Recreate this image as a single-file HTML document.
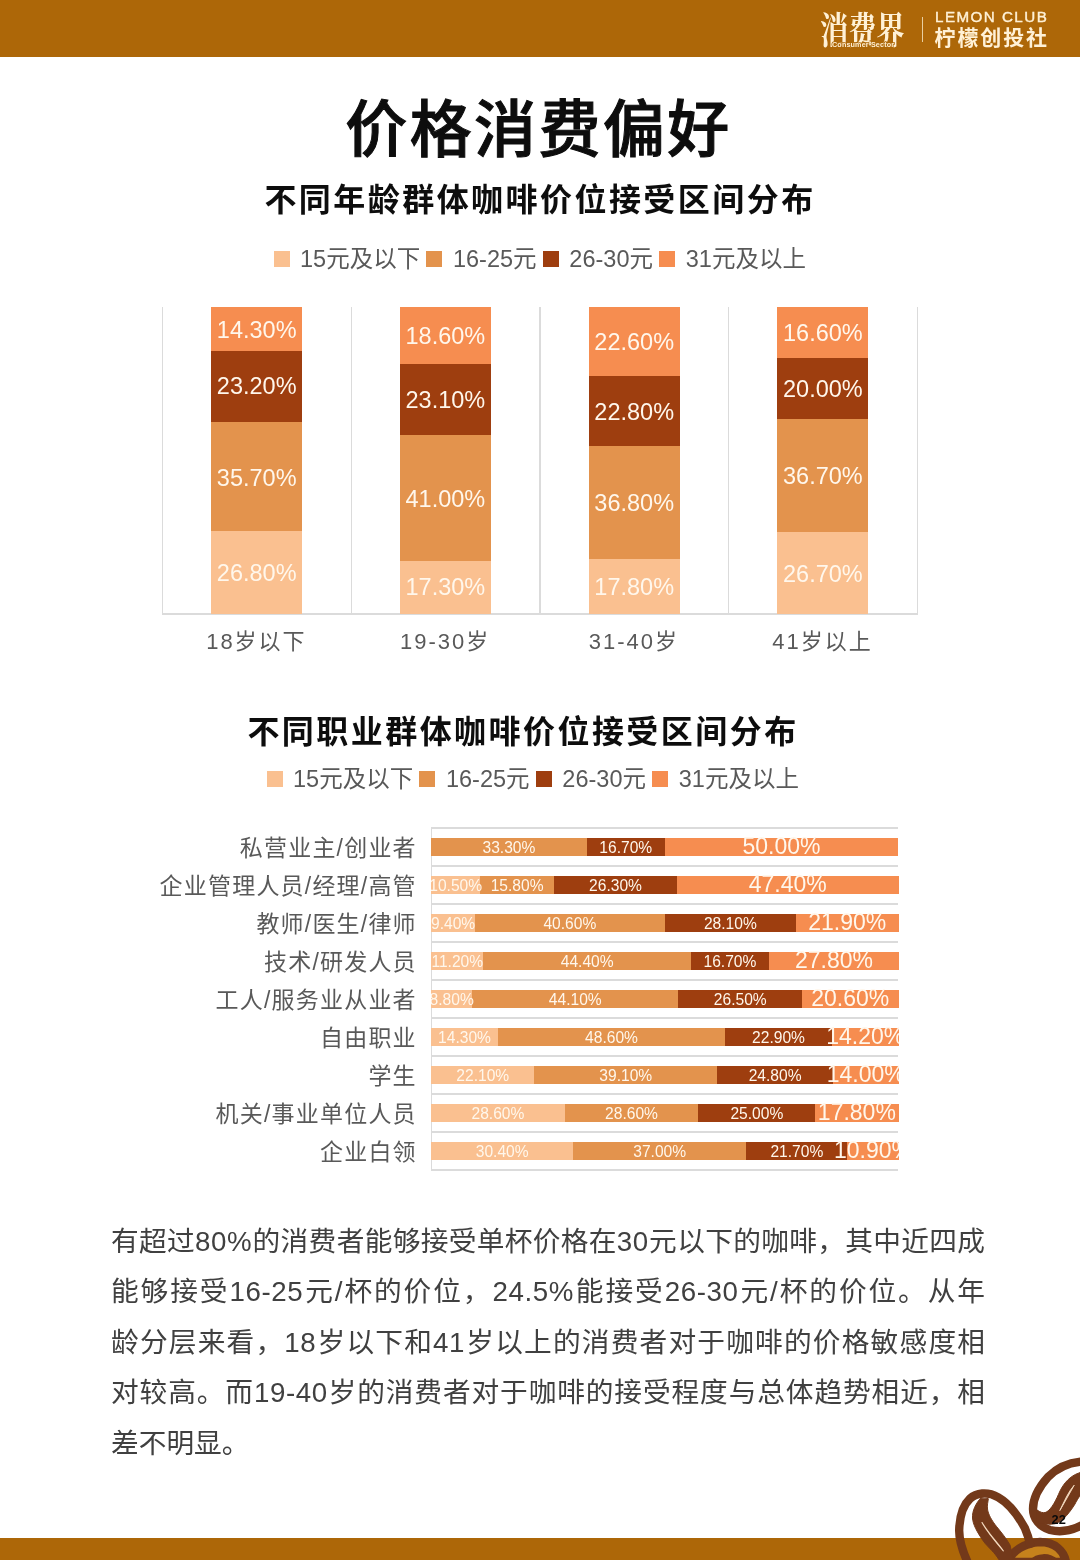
<!DOCTYPE html>
<html lang="zh-CN"><head><meta charset="utf-8"><title>价格消费偏好</title>
<style>
*{margin:0;padding:0;box-sizing:border-box}
html,body{width:1080px;height:1560px;background:#fff;overflow:hidden}
body{position:relative;font-family:"Liberation Sans","Noto Sans CJK SC",sans-serif;color:#595959}
.abs{position:absolute}
.top{left:0;top:0;width:1080px;height:57px;background:#AD6708}
.bot{left:0;top:1537.5px;width:1080px;height:23px;background:#AD6708}
.title{left:0;width:1080px;top:86px;left:-2.5px;text-align:center;font-family:"Liberation Sans","Noto Sans CJK SC",sans-serif;font-weight:500;-webkit-text-stroke:1px #0d0d0d;font-size:62px;line-height:90px;color:#0d0d0d;letter-spacing:2.4px;padding-left:2px}
.sub{left:0;width:1080px;text-align:center;font-family:"Liberation Sans","Noto Sans CJK SC",sans-serif;font-weight:700;font-size:32px;line-height:40px;color:#0d0d0d;letter-spacing:2.45px;padding-left:2px}
.leg{font-size:23.5px;line-height:30px;color:#595959;white-space:nowrap;letter-spacing:0px}
.leg i{display:inline-block;width:16px;height:16px;margin-right:10.5px;vertical-align:0.5px}
.leg span{margin-right:6.3px}
.seg{position:absolute;color:#FFF7EC;text-align:center;white-space:nowrap;overflow:visible}
.v{width:91px;font-size:23.5px}
.cat1{width:188px;text-align:center;font-size:22px;line-height:30px;letter-spacing:2px;color:#595959;top:627px}
.gl{background:#dbdbdb}
.cat2{left:100px;width:316.8px;text-align:right;font-size:23px;line-height:30px;letter-spacing:1.2px;color:#595959;white-space:nowrap}
.h{height:18px;font-size:15.6px;line-height:20.4px}
.h.big{font-size:23px;line-height:16px}
.body{left:111px;top:1216.5px;width:874px;font-family:"Liberation Sans","Noto Sans CJK SC",sans-serif;font-weight:400;font-size:27.7px;line-height:50.5px;color:#404040;letter-spacing:0px}
.body div{text-align:justify;text-align-last:justify;white-space:nowrap;margin-right:0px}
.body .n{letter-spacing:0.6px}
.body div.last{text-align:left;text-align-last:left}
</style></head><body>
<div class="abs top"></div>
<div class="abs" style="left:819.5px;top:7.5px;width:115px;height:48px;font-family:'Liberation Serif','Noto Serif CJK SC',serif;font-weight:700;font-size:37px;line-height:48px;color:#FFF1D6;white-space:nowrap;transform:scaleX(0.765);transform-origin:0 0">消费界</div>
<div class="abs" style="left:832px;top:39.5px;width:70px;font-family:'Liberation Sans',sans-serif;font-weight:700;font-size:7.2px;line-height:10px;color:#FFF1D6;white-space:nowrap;letter-spacing:0.15px;-webkit-text-stroke:1.6px #AD6708;paint-order:stroke fill">Consumer Sector</div>
<div class="abs" style="left:921.5px;top:16.5px;width:1.3px;height:25px;background:#E9CFA0"></div>
<div class="abs" style="left:935px;top:7.5px;font-family:'Liberation Sans',sans-serif;font-weight:400;-webkit-text-stroke:0.4px #FFF1D6;font-size:15.2px;line-height:18px;color:#FFF1D6;white-space:nowrap;letter-spacing:1.45px">LEMON CLUB</div>
<div class="abs" style="left:934.5px;top:23.2px;font-family:'Liberation Sans','Noto Sans CJK SC',sans-serif;font-weight:700;font-size:21px;line-height:30px;color:#FFF1D6;white-space:nowrap;letter-spacing:1.9px">柠檬创投社</div>

<div class="abs title">价格消费偏好</div>
<div class="abs sub" style="top:180px;padding-left:0px">不同年龄群体咖啡价位接受区间分布</div>
<div class="abs leg" style="left:273.5px;top:244px"><i style="background:#FAC090"></i><span>15元及以下</span><i style="background:#E3934D"></i><span>16-25元</span><i style="background:#9E3E0F"></i><span>26-30元</span><i style="background:#F68D50"></i><span>31元及以上</span></div>
<div class="abs gl" style="left:161.8px;top:306.5px;width:1.3px;height:307.0px"></div>
<div class="abs gl" style="left:350.6px;top:306.5px;width:1.3px;height:307.0px"></div>
<div class="abs gl" style="left:539.3px;top:306.5px;width:1.3px;height:307.0px"></div>
<div class="abs gl" style="left:728.0px;top:306.5px;width:1.3px;height:307.0px"></div>
<div class="abs gl" style="left:916.8px;top:306.5px;width:1.3px;height:307.0px"></div>
<div class="abs gl" style="left:161.5px;top:613.2px;width:756.3px;height:1.5px"></div>
<div class="seg v" style="left:211.2px;top:531.2px;height:82.6px;line-height:84.7px;background:#FAC090">26.80%</div>
<div class="seg v" style="left:211.2px;top:421.6px;height:109.9px;line-height:112.0px;background:#E3934D">35.70%</div>
<div class="seg v" style="left:211.2px;top:350.4px;height:71.5px;line-height:73.6px;background:#9E3E0F">23.20%</div>
<div class="seg v" style="left:211.2px;top:306.5px;height:44.2px;line-height:46.3px;background:#F68D50">14.30%</div>
<div class="abs cat1" style="left:162.4px">18岁以下</div>
<div class="seg v" style="left:399.9px;top:560.4px;height:53.4px;line-height:55.5px;background:#FAC090">17.30%</div>
<div class="seg v" style="left:399.9px;top:434.5px;height:126.2px;line-height:128.3px;background:#E3934D">41.00%</div>
<div class="seg v" style="left:399.9px;top:363.6px;height:71.2px;line-height:73.3px;background:#9E3E0F">23.10%</div>
<div class="seg v" style="left:399.9px;top:306.5px;height:57.4px;line-height:59.5px;background:#F68D50">18.60%</div>
<div class="abs cat1" style="left:351.1px">19-30岁</div>
<div class="seg v" style="left:588.7px;top:558.9px;height:54.9px;line-height:57.0px;background:#FAC090">17.80%</div>
<div class="seg v" style="left:588.7px;top:445.9px;height:113.3px;line-height:115.4px;background:#E3934D">36.80%</div>
<div class="seg v" style="left:588.7px;top:375.9px;height:70.3px;line-height:72.4px;background:#9E3E0F">22.80%</div>
<div class="seg v" style="left:588.7px;top:306.5px;height:69.7px;line-height:71.8px;background:#F68D50">22.60%</div>
<div class="abs cat1" style="left:539.9px">31-40岁</div>
<div class="seg v" style="left:777.4px;top:531.5px;height:82.3px;line-height:84.4px;background:#FAC090">26.70%</div>
<div class="seg v" style="left:777.4px;top:418.9px;height:113.0px;line-height:115.1px;background:#E3934D">36.70%</div>
<div class="seg v" style="left:777.4px;top:357.5px;height:61.7px;line-height:63.8px;background:#9E3E0F">20.00%</div>
<div class="seg v" style="left:777.4px;top:306.5px;height:51.3px;line-height:53.4px;background:#F68D50">16.60%</div>
<div class="abs cat1" style="left:728.6px">41岁以上</div>
<div class="abs sub" style="top:712px;left:-18px">不同职业群体咖啡价位接受区间分布</div>
<div class="abs leg" style="left:266.5px;top:764px"><i style="background:#FAC090"></i><span>15元及以下</span><i style="background:#E3934D"></i><span>16-25元</span><i style="background:#9E3E0F"></i><span>26-30元</span><i style="background:#F68D50"></i><span>31元及以上</span></div>
<div class="abs" style="left:431px;top:826px;width:467.8px;height:346.0px;overflow:hidden">
<div class="abs gl" style="left:0;top:1.3px;width:467.3px;height:1.4px"></div>
<div class="abs gl" style="left:0;top:39.3px;width:467.3px;height:1.4px"></div>
<div class="abs gl" style="left:0;top:77.3px;width:467.3px;height:1.4px"></div>
<div class="abs gl" style="left:0;top:115.3px;width:467.3px;height:1.4px"></div>
<div class="abs gl" style="left:0;top:153.3px;width:467.3px;height:1.4px"></div>
<div class="abs gl" style="left:0;top:191.3px;width:467.3px;height:1.4px"></div>
<div class="abs gl" style="left:0;top:229.3px;width:467.3px;height:1.4px"></div>
<div class="abs gl" style="left:0;top:267.3px;width:467.3px;height:1.4px"></div>
<div class="abs gl" style="left:0;top:305.3px;width:467.3px;height:1.4px"></div>
<div class="abs gl" style="left:0;top:343.3px;width:467.3px;height:1.4px"></div>
<div class="abs gl" style="left:-0.5px;top:2px;width:1.3px;height:342.0px"></div>
<div class="seg h" style="left:0.0px;top:12.0px;width:155.9px;background:#E3934D"><span style="position:absolute;z-index:2;left:50%;top:0;transform:translateX(-50%)">33.30%</span></div>
<div class="seg h" style="left:155.6px;top:12.0px;width:78.3px;background:#9E3E0F"><span style="position:absolute;z-index:2;left:50%;top:0;transform:translateX(-50%)">16.70%</span></div>
<div class="seg h big" style="left:233.6px;top:12.0px;width:233.9px;background:#F68D50"><span style="position:absolute;z-index:2;left:50%;top:0;transform:translateX(-50%)">50.00%</span></div>
<div class="seg h" style="left:0.0px;top:50.0px;width:49.4px;background:#FAC090"><span style="position:absolute;z-index:2;left:50%;top:0;transform:translateX(-50%)">10.50%</span></div>
<div class="seg h" style="left:49.1px;top:50.0px;width:74.1px;background:#E3934D"><span style="position:absolute;z-index:2;left:50%;top:0;transform:translateX(-50%)">15.80%</span></div>
<div class="seg h" style="left:122.9px;top:50.0px;width:123.2px;background:#9E3E0F"><span style="position:absolute;z-index:2;left:50%;top:0;transform:translateX(-50%)">26.30%</span></div>
<div class="seg h big" style="left:245.8px;top:50.0px;width:221.8px;background:#F68D50"><span style="position:absolute;z-index:2;left:50%;top:0;transform:translateX(-50%)">47.40%</span></div>
<div class="seg h" style="left:0.0px;top:88.0px;width:44.2px;background:#FAC090"><span style="position:absolute;z-index:2;left:50%;top:0;transform:translateX(-50%)">9.40%</span></div>
<div class="seg h" style="left:43.9px;top:88.0px;width:190.0px;background:#E3934D"><span style="position:absolute;z-index:2;left:50%;top:0;transform:translateX(-50%)">40.60%</span></div>
<div class="seg h" style="left:233.6px;top:88.0px;width:131.6px;background:#9E3E0F"><span style="position:absolute;z-index:2;left:50%;top:0;transform:translateX(-50%)">28.10%</span></div>
<div class="seg h big" style="left:365.0px;top:88.0px;width:102.6px;background:#F68D50"><span style="position:absolute;z-index:2;left:50%;top:0;transform:translateX(-50%)">21.90%</span></div>
<div class="seg h" style="left:0.0px;top:126.0px;width:52.6px;background:#FAC090"><span style="position:absolute;z-index:2;left:50%;top:0;transform:translateX(-50%)">11.20%</span></div>
<div class="seg h" style="left:52.3px;top:126.0px;width:207.8px;background:#E3934D"><span style="position:absolute;z-index:2;left:50%;top:0;transform:translateX(-50%)">44.40%</span></div>
<div class="seg h" style="left:259.8px;top:126.0px;width:78.3px;background:#9E3E0F"><span style="position:absolute;z-index:2;left:50%;top:0;transform:translateX(-50%)">16.70%</span></div>
<div class="seg h big" style="left:337.9px;top:126.0px;width:130.2px;background:#F68D50"><span style="position:absolute;z-index:2;left:50%;top:0;transform:translateX(-50%)">27.80%</span></div>
<div class="seg h" style="left:0.0px;top:164.0px;width:41.4px;background:#FAC090"><span style="position:absolute;z-index:2;left:50%;top:0;transform:translateX(-50%)">8.80%</span></div>
<div class="seg h" style="left:41.1px;top:164.0px;width:206.4px;background:#E3934D"><span style="position:absolute;z-index:2;left:50%;top:0;transform:translateX(-50%)">44.10%</span></div>
<div class="seg h" style="left:247.2px;top:164.0px;width:124.1px;background:#9E3E0F"><span style="position:absolute;z-index:2;left:50%;top:0;transform:translateX(-50%)">26.50%</span></div>
<div class="seg h big" style="left:371.0px;top:164.0px;width:96.6px;background:#F68D50"><span style="position:absolute;z-index:2;left:50%;top:0;transform:translateX(-50%)">20.60%</span></div>
<div class="seg h" style="left:0.0px;top:202.0px;width:67.1px;background:#FAC090"><span style="position:absolute;z-index:2;left:50%;top:0;transform:translateX(-50%)">14.30%</span></div>
<div class="seg h" style="left:66.8px;top:202.0px;width:227.4px;background:#E3934D"><span style="position:absolute;z-index:2;left:50%;top:0;transform:translateX(-50%)">48.60%</span></div>
<div class="seg h" style="left:293.9px;top:202.0px;width:107.3px;background:#9E3E0F"><span style="position:absolute;z-index:2;left:50%;top:0;transform:translateX(-50%)">22.90%</span></div>
<div class="seg h big" style="left:400.9px;top:202.0px;width:66.7px;background:#F68D50"><span style="position:absolute;z-index:2;left:50%;top:0;transform:translateX(-50%)">14.20%</span></div>
<div class="seg h" style="left:0.0px;top:240.0px;width:103.6px;background:#FAC090"><span style="position:absolute;z-index:2;left:50%;top:0;transform:translateX(-50%)">22.10%</span></div>
<div class="seg h" style="left:103.3px;top:240.0px;width:183.0px;background:#E3934D"><span style="position:absolute;z-index:2;left:50%;top:0;transform:translateX(-50%)">39.10%</span></div>
<div class="seg h" style="left:286.0px;top:240.0px;width:116.2px;background:#9E3E0F"><span style="position:absolute;z-index:2;left:50%;top:0;transform:translateX(-50%)">24.80%</span></div>
<div class="seg h big" style="left:401.9px;top:240.0px;width:65.7px;background:#F68D50"><span style="position:absolute;z-index:2;left:50%;top:0;transform:translateX(-50%)">14.00%</span></div>
<div class="seg h" style="left:0.0px;top:278.0px;width:133.9px;background:#FAC090"><span style="position:absolute;z-index:2;left:50%;top:0;transform:translateX(-50%)">28.60%</span></div>
<div class="seg h" style="left:133.6px;top:278.0px;width:133.9px;background:#E3934D"><span style="position:absolute;z-index:2;left:50%;top:0;transform:translateX(-50%)">28.60%</span></div>
<div class="seg h" style="left:267.3px;top:278.0px;width:117.1px;background:#9E3E0F"><span style="position:absolute;z-index:2;left:50%;top:0;transform:translateX(-50%)">25.00%</span></div>
<div class="seg h big" style="left:384.1px;top:278.0px;width:83.5px;background:#F68D50"><span style="position:absolute;z-index:2;left:50%;top:0;transform:translateX(-50%)">17.80%</span></div>
<div class="seg h" style="left:0.0px;top:316.0px;width:142.4px;background:#FAC090"><span style="position:absolute;z-index:2;left:50%;top:0;transform:translateX(-50%)">30.40%</span></div>
<div class="seg h" style="left:142.1px;top:316.0px;width:173.2px;background:#E3934D"><span style="position:absolute;z-index:2;left:50%;top:0;transform:translateX(-50%)">37.00%</span></div>
<div class="seg h" style="left:315.0px;top:316.0px;width:101.7px;background:#9E3E0F"><span style="position:absolute;z-index:2;left:50%;top:0;transform:translateX(-50%)">21.70%</span></div>
<div class="seg h big" style="left:416.4px;top:316.0px;width:51.2px;background:#F68D50"><span style="position:absolute;z-index:2;left:50%;top:0;transform:translateX(-50%)">10.90%</span></div>
</div>
<div class="abs cat2" style="top:833.0px">私营业主/创业者</div>
<div class="abs cat2" style="top:871.0px">企业管理人员/经理/高管</div>
<div class="abs cat2" style="top:909.0px">教师/医生/律师</div>
<div class="abs cat2" style="top:947.0px">技术/研发人员</div>
<div class="abs cat2" style="top:985.0px">工人/服务业从业者</div>
<div class="abs cat2" style="top:1023.0px">自由职业</div>
<div class="abs cat2" style="top:1061.0px">学生</div>
<div class="abs cat2" style="top:1099.0px">机关/事业单位人员</div>
<div class="abs cat2" style="top:1137.0px">企业白领</div>
<div class="abs body"><div>有超过<span class="n">80%</span>的消费者能够接受单杯价格在<span class="n">30</span>元以下的咖啡，其中近四成</div><div>能够接受<span class="n">16-25</span>元/杯的价位，<span class="n">24.5%</span>能接受<span class="n">26-30</span>元/杯的价位。从年</div><div>龄分层来看，<span class="n">18</span>岁以下和<span class="n">41</span>岁以上的消费者对于咖啡的价格敏感度相</div><div>对较高。而<span class="n">19-40</span>岁的消费者对于咖啡的接受程度与总体趋势相近，相</div><div class="last">差不明显。</div></div>
<div class="abs bot"></div>
<svg class="abs" style="left:940px;top:1440px" width="140" height="120" viewBox="940 1440 140 120" fill="none">
<g stroke="#73391A" stroke-width="8.4" stroke-linecap="round" stroke-linejoin="round">
<!-- bean 3 (bottom) -->
<path d="M1008 1562 C1012 1551 1024 1543 1040 1542 C1055 1542 1064 1551 1066 1562 Z" fill="#C6821C"/>
<path d="M1030 1562 C1036 1554 1050 1553 1058 1562 Z" fill="#73391A" stroke-width="3"/>
<!-- bean 1 (left) -->
<path d="M968 1563 C962 1550 959 1540 959.2 1530 C959.5 1520 961 1507 970 1498.6 C976 1493 987 1491 998.3 1497.3 C1010 1504 1020 1519 1025 1528.3 C1027 1533 1029 1539 1030 1544"/>
<path d="M980.8 1498 C976 1503 972 1511 972.5 1518 C973 1524 976 1531 985 1543.3 C991 1550 997 1555 1000 1562 L1014 1562 L1010 1545 C1006 1538 1001 1532 996.7 1526.7 C992 1521 988 1514 987.5 1509 C987 1505 988 1502 988.3 1499 Z" fill="#73391A" stroke-width="1"/>
<!-- bean 2 (right) -->
<path d="M1084 1461.5 C1070 1462 1058 1467 1048 1477 C1039 1487 1033 1499 1033 1509 C1033 1519 1040 1527 1050 1530 C1060 1532.5 1072 1531 1084 1524"/>
<path d="M1084 1471 L1078.9 1473 C1070 1476 1064 1483 1060 1491 C1056 1500 1052 1509 1046 1512.3 C1043 1513.5 1040 1512 1037 1510 L1036 1522 C1042 1524 1050 1525 1056 1523.5 C1064 1520 1070 1512 1075 1504 C1077 1500 1079 1497 1084 1490 Z" fill="#73391A" stroke-width="1"/>
</g>
<path d="M982 1522.5 C986 1530 994 1540 1003.3 1550.8 C996 1541 989 1534 982 1522.5 Z" fill="#F3D9BE" stroke="#F3D9BE" stroke-width="1.1" stroke-linejoin="round"/>
<path d="M1074.2 1485.2 C1068 1492 1064 1502 1059.8 1510.6 C1065 1502 1069 1494 1074.2 1485.2 Z" fill="#F3D9BE" stroke="#F3D9BE" stroke-width="0.9" stroke-linejoin="round"/>
<text x="1051.6" y="1524" font-family="Liberation Sans, sans-serif" font-weight="700" font-size="12.8" fill="#0a0a0a">22</text>
</svg>

</body></html>
